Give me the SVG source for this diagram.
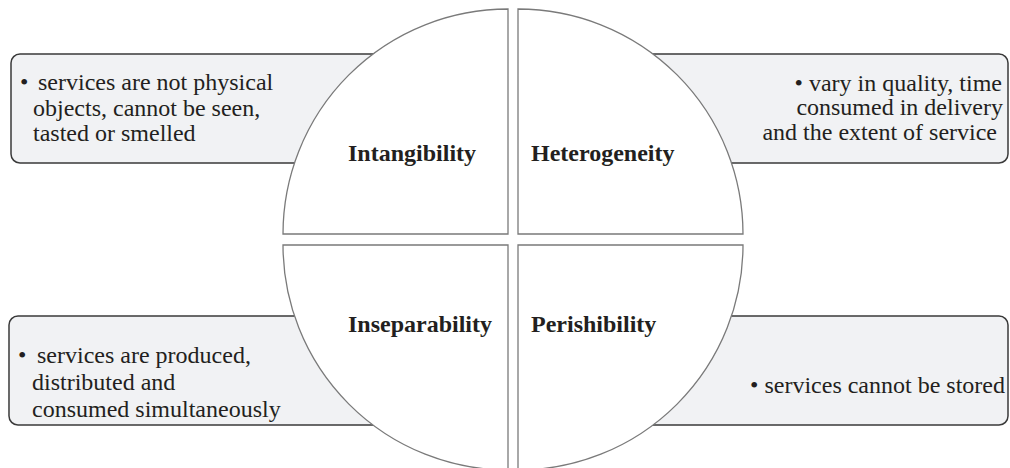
<svg xmlns="http://www.w3.org/2000/svg" width="1010" height="468" viewBox="0 0 1010 468">
<style>
.box{fill:#f1f2f4;stroke:#3a3a3a;stroke-width:1.5}
.quad{fill:#ffffff;stroke:#7a7a7a;stroke-width:1.3}
.txt{font-family:"Liberation Serif","Times New Roman",serif;font-size:24px;fill:#231f20}
.lbl{font-family:"Liberation Serif","Times New Roman",serif;font-size:24px;font-weight:bold;fill:#231f20}
</style>
<rect width="1010" height="468" fill="#ffffff"/>
<g id="box-intangibility">
<rect class="box" x="11" y="54" width="400" height="109" rx="9"/>
<text class="txt" x="20" y="90">• <tspan x="38">services are not physical</tspan></text>
<text class="txt" x="33" y="116">objects, cannot be seen,</text>
<text class="txt" x="33" y="141">tasted or smelled</text>
</g>
<g id="box-heterogeneity">
<rect class="box" x="610" y="54" width="398" height="109" rx="9"/>
<text class="txt" text-anchor="end" x="1002" y="91">• vary in quality, time</text>
<text class="txt" text-anchor="end" x="1003" y="115">consumed in delivery</text>
<text class="txt" text-anchor="end" x="997" y="140">and the extent of service</text>
</g>
<g id="box-inseparability">
<rect class="box" x="9" y="316" width="400" height="109" rx="9"/>
<text class="txt" x="18" y="363">• <tspan x="37">services are produced,</tspan></text>
<text class="txt" x="32" y="390">distributed and</text>
<text class="txt" x="32" y="417">consumed simultaneously</text>
</g>
<g id="box-perishibility">
<rect class="box" x="610" y="316" width="398" height="109" rx="9"/>
<text class="txt" text-anchor="end" x="1005" y="393">• services cannot be stored</text>
</g>
<g id="q-intangibility">
<path class="quad" d="M508,234 L508,9 A225,225 0 0 0 283,234 Z"/>
<text class="lbl" x="348" y="161">Intangibility</text>
</g>
<g id="q-heterogeneity">
<path class="quad" d="M518,234 L518,9 A225,225 0 0 1 743,234 Z"/>
<text class="lbl" x="531" y="161">Heterogeneity</text>
</g>
<g id="q-inseparability">
<path class="quad" d="M508,245 L508,470 A225,225 0 0 1 283,245 Z"/>
<text class="lbl" x="348" y="332">Inseparability</text>
</g>
<g id="q-perishibility">
<path class="quad" d="M518,245 L518,470 A225,225 0 0 0 743,245 Z"/>
<text class="lbl" x="531" y="332">Perishibility</text>
</g>
<g id="connectors"></g>
</svg>
